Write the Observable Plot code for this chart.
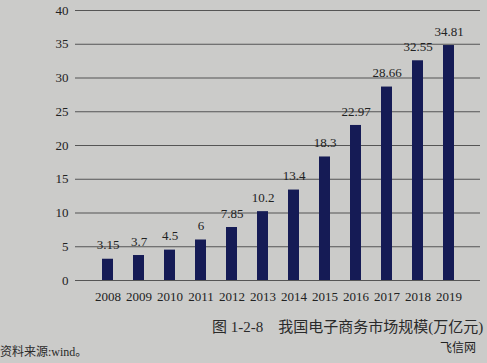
<!DOCTYPE html>
<html><head><meta charset="utf-8">
<script src="https://cdn.jsdelivr.net/npm/d3@7"></script>
<script src="https://cdn.jsdelivr.net/npm/@observablehq/plot@0.6"></script>
<style>
body{margin:0;background:#cbcbc9;width:487px;height:363px;overflow:hidden;position:relative;font-family:"Liberation Serif",serif;}
#cap{position:absolute;left:212px;top:315px;white-space:nowrap;font-family:"Liberation Serif","Noto Sans CJK SC",serif;font-size:15px;color:#2a2a2a;}
#src{position:absolute;left:0;top:342px;font-family:"Liberation Serif","Noto Sans CJK SC",serif;font-size:12px;color:#2a2a2a;}
#wm{position:absolute;left:440px;top:338px;font-family:"Noto Sans CJK SC",sans-serif;font-size:12px;color:#222;}
</style></head><body>
<div id="chart"></div>
<div id="cap">图 1-2-8　我国电子商务市场规模(万亿元)</div>
<div id="src">资料来源:wind。</div>
<div id="wm">飞信网</div>
<script>
const years = ["2008","2009","2010","2011","2012","2013","2014","2015","2016","2017","2018","2019"];
const values = [3.15,3.7,4.5,6,7.85,10.2,13.4,18.3,22.97,28.66,32.55,34.81];
const labels = ["3.15","3.7","4.5","6","7.85","10.2","13.4","18.3","22.97","28.66","32.55","34.81"];
const yTicks = [0,5,10,15,20,25,30,35,40];
const data = years.map((y,i)=>({year:y,value:values[i],label:labels[i]}));
const chart = Plot.plot({
  width:487, height:305,
  marginTop:10, marginBottom:25, marginLeft:75, marginRight:7,
  style:{background:"transparent",fontFamily:"Liberation Serif, serif",fontSize:"13px",color:"#222"},
  x:{domain:years, padding:0.66, label:null, tickSize:0, tickPadding:11},
  y:{domain:[0,40], ticks:yTicks, label:null, tickSize:0, tickPadding:7},
  marks:[
    Plot.ruleY(yTicks,{stroke:"#555",strokeWidth:1.2}),
    Plot.barY(data,{x:"year",y:"value",fill:"#151b55"}),
    Plot.text(data,{x:"year",y:"value",text:"label",dy:-14,fill:"#222",fontSize:13})
  ]
});
document.getElementById("chart").append(chart);
</script>
</body></html>
